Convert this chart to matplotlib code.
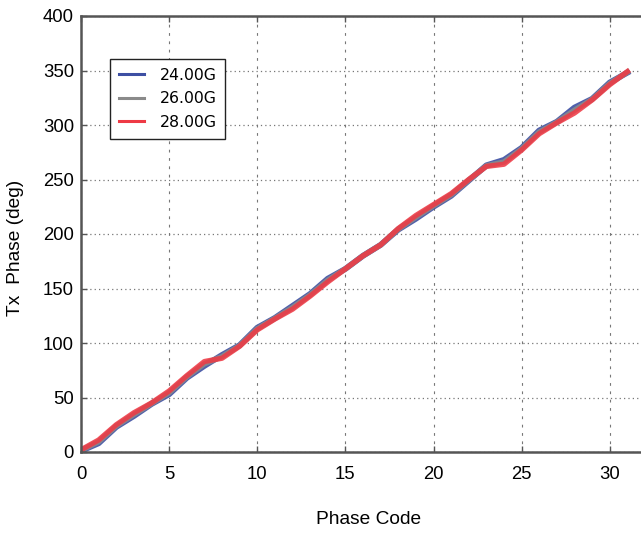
import matplotlib
matplotlib.use("Agg")
import matplotlib.pyplot as plt

codes = list(range(32))
phase_24g = [1, 8, 23, 33, 44, 53, 68, 79, 89, 98, 114, 123, 134, 145, 159, 168,
             180, 190, 204, 214, 225, 235, 249, 263, 268, 279, 295, 303, 316, 324, 339, 348]
phase_26g = [1.5, 9.5, 24, 34.5, 44.5, 54.5, 69, 81, 87.5, 97.5, 113, 122.5, 132.5, 144, 157.5, 168,
             180, 190, 204.5, 215.5, 226, 236, 249.5, 262.5, 266, 278, 293.5, 302.5, 313.5, 323.5, 338, 348.5]
phase_28g = [2, 11, 25, 36, 45, 56, 70, 83, 86, 97, 112, 122, 131, 143, 156, 168,
             180, 190, 205, 217, 227, 237, 250, 262, 264, 277, 292, 302, 311, 323, 337, 349]
labels = ["24.00G", "26.00G", "28.00G"]
colors = ["#3d4fa3", "#8a8a8a", "#ee3a45"]
xticks = [0, 5, 10, 15, 20, 25, 30]
yticks = [0, 50, 100, 150, 200, 250, 300, 350, 400]

fig = plt.figure(figsize=(6.41, 5.33), dpi=100)
ax = fig.add_axes([81/641, 1-452/533, 564/641, 436/533])

series = [phase_24g, phase_26g, phase_28g]
lws = [4.2, 4.0, 3.8]
alphas = [0.9, 0.9, 0.88]
for s, lab, c, lw, a in zip(series, labels, colors, lws, alphas):
    ax.plot(codes, s, color=c, lw=lw, alpha=a, label=lab, solid_joinstyle='round')

ax.set_xlim(0, 32)
ax.set_ylim(0, 400)
ax.set_xticks(xticks)
ax.set_yticks(yticks)

tick_font = dict(family='Liberation Sans', size=13.3)
ax.set_xticklabels([str(v) for v in xticks], **tick_font)
ax.set_yticklabels([str(v) for v in yticks], **tick_font)
ax.tick_params(axis='x', direction='in', top=True, length=4, width=1, color='#555555', pad=10)
ax.tick_params(axis='y', direction='in', right=False, length=4, width=1, color='#555555', pad=5)

for side in ['left', 'bottom', 'top', 'right']:
    ax.spines[side].set_color('#555555')
    ax.spines[side].set_linewidth(1.8)

ax.xaxis.grid(True, linestyle=(0, (2.5, 5)), color='#777777', lw=0.8)
ax.yaxis.grid(True, linestyle=(0, (1, 2.5)), color='#777777', lw=0.9)
ax.set_axisbelow(True)

ax.set_xlabel("Phase Code", family='Liberation Sans', size=13.8)
ax.set_ylabel("Tx  Phase (deg)", family='Liberation Sans', size=13.8)
ax.xaxis.set_label_coords((369-81)/564, -(519-452)/436)
ax.yaxis.set_label_coords(-(81-15.5)/564, (452-248)/436)
ax.xaxis.label.set_va('center')
ax.yaxis.label.set_va('center')

leg = ax.legend(loc='upper left', bbox_to_anchor=((110-81)/564, (452-59)/436),
                frameon=True, fancybox=False, edgecolor='#222222', framealpha=1,
                prop=dict(family='DejaVu Sans', size=11.3), handlelength=1.6,
                handletextpad=1.0, borderpad=0.55, labelspacing=0.55, borderaxespad=0)
leg.get_frame().set_linewidth(1.0)
for h in leg.get_lines():
    h.set_linewidth(2.2)
    h.set_alpha(1)

fig.savefig("out.png", dpi=100)
